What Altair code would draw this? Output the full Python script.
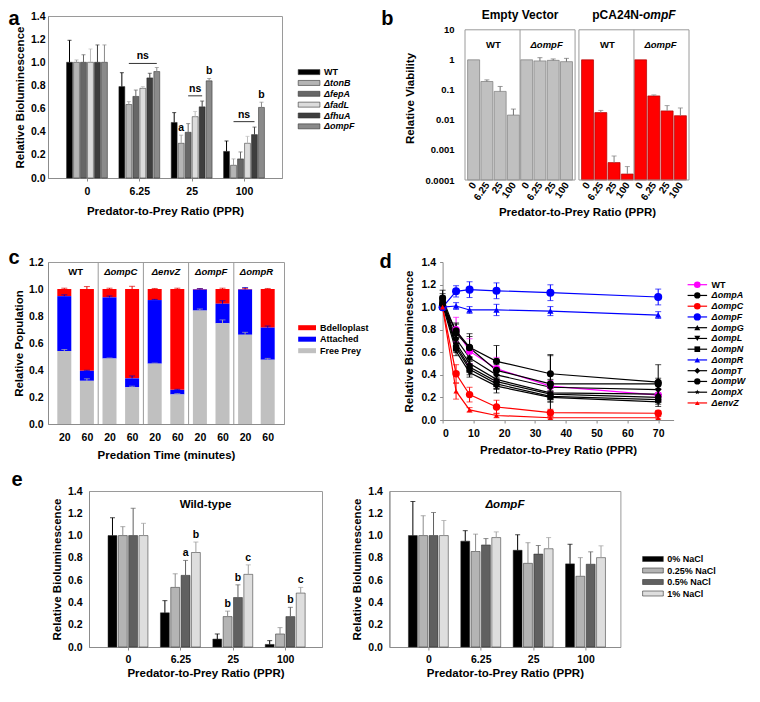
import math
import altair as alt
import pandas as pd

FONT = "Liberation Sans"
FRAME = "#9a9a9a"

# ---------------- shared ----------------
ppr_cats = ["0", "6.25", "25", "100"]
yticks_14 = [0.0, 0.2, 0.4, 0.6, 0.8, 1.0, 1.2, 1.4]
yticks_12 = [0.0, 0.2, 0.4, 0.6, 0.8, 1.0, 1.2]

# ---------------- panel a ----------------
a_strains = ["WT", "ΔtonB", "ΔfepA", "ΔfadL", "ΔfhuA", "ΔompF"]
a_wt = [1.00, 0.79, 0.48, 0.23]
a_tonb = [1.00, 0.635, 0.30, 0.11]
a_fepa = [1.00, 0.705, 0.395, 0.165]
a_fadl = [1.00, 0.775, 0.53, 0.30]
a_fhua = [1.00, 0.865, 0.615, 0.375]
a_ompf = [1.00, 0.92, 0.84, 0.61]
a_wt_err = [0.19, 0.12, 0.085, 0.09]
a_tonb_err = [0.02, 0.025, 0.07, 0.055]
a_fepa_err = [0.065, 0.055, 0.075, 0.06]
a_fadl_err = [0.115, 0.015, 0.045, 0.06]
a_fhua_err = [0.15, 0.04, 0.05, 0.065]
a_ompf_err = [0.15, 0.035, 0.02, 0.045]
a_colors = ["#000000", "#b5b5b5", "#676767", "#dcdcdc", "#3e3e3e", "#8a8a8a"]
a_err_colors = ["#000000", "#a0a0a0", "#676767", "#bdbdbd", "#3e3e3e", "#8a8a8a"]
a_sig_ppr = ["25", "25", "100"]
a_sig_strain = ["ΔtonB", "ΔompF", "ΔompF"]
a_sig_text = ["a", "b", "b"]
a_ns_ppr = ["6.25", "25", "100"]
a_ns_start = ["ΔtonB", "ΔfepA", "ΔtonB"]
a_ns_end = ["ΔompF", "ΔfhuA", "ΔfhuA"]
a_ns_level = [0.99, 0.71, 0.487]

# ---------------- panel b ----------------
b_vectors = ["Empty Vector", "pCA24N-ompF"]
b_strains = ["WT", "ΔompF"]
b_ev_wt = [1.0, 0.19, 0.089, 0.0145]
b_ev_wt_hi = [1.0, 0.215, 0.13, 0.023]
b_ev_ko = [1.0, 0.92, 0.96, 0.87]
b_ev_ko_hi = [1.0, 1.18, 1.07, 1.12]
b_pc_wt = [1.0, 0.0175, 0.00038, 0.000158]
b_pc_wt_hi = [1.0, 0.0207, 0.00063, 0.00028]
b_pc_ko = [1.0, 0.063, 0.020, 0.0138]
b_pc_ko_hi = [1.0, 0.068, 0.030, 0.025]
b_yticks = [0.0001, 0.001, 0.01, 0.1, 1, 10]
b_fills = ["#c0c0c0", "#ff0000"]
b_edges = ["#7a7a7a", "#b00000"]
b_errc = ["#707070", "#808080"]
b_ymin = 0.0001
b_frame_top = 10
b_ymax = 28.8          # headroom so the framed area starts below panel a's top
b_title_y = 31.6
b_frame_units = 8.3
b_gap_units = 0.29

# ---------------- panel c ----------------
c_groups = ["WT", "ΔompC", "ΔenvZ", "ΔompF", "ΔompR"]
c_times = ["20", "60"]
c_free = [0.540, 0.320, 0.485, 0.272, 0.447, 0.219, 0.840, 0.746, 0.661, 0.476]
c_attached_top = [0.947, 0.394, 0.938, 0.338, 0.918, 0.253, 0.996, 0.891, 0.996, 0.714]
c_total = [1.0, 1.0, 1.0, 1.0, 1.0, 1.0, 1.0, 1.0, 1.0, 1.0]
c_free_err = [0.012, 0.015, 0.004, 0.008, 0.004, 0.006, 0.012, 0.025, 0.018, 0.010]
c_att_err = [0.010, 0.004, 0.010, 0.018, 0.005, 0.004, 0.006, 0.022, 0.015, 0.012]
c_bd_err = [0.006, 0.018, 0.006, 0.020, 0.004, 0.006, 0.003, 0.006, 0.004, 0.004]
c_segments = ["Bdelloplast", "Attached", "Free Prey"]
c_colors = ["#ff0000", "#0000ff", "#c0c0c0"]
c_err_colors = ["#e00000", "#0000c8", "#a8a8a8"]

# ---------------- panel d ----------------
d_x = [0, 4.375, 8.75, 17.5, 35, 70]
d_series = ["WT", "ΔompA", "ΔompC", "ΔompF", "ΔompG", "ΔompL", "ΔompN",
            "ΔompR", "ΔompT", "ΔompW", "ΔompX", "ΔenvZ"]
d_colors = ["#ff00ff", "#000000", "#ff0000", "#0000ff", "#000000", "#000000",
            "#000000", "#0000ff", "#000000", "#000000", "#000000", "#ff0000"]
d_markers = ["circle", "circle", "circle", "circle", "triangle-up", "triangle-down",
             "square", "triangle-up", "diamond", "circle", "star", "triangle-up"]
d_marker_size = [55, 50, 55, 65, 45, 45, 40, 40, 45, 50, 35, 28]
d_wt = [1.00, 0.80, 0.61, 0.455, 0.30, 0.22]
d_ompa = [1.08, 0.77, 0.64, 0.44, 0.32, 0.32]
d_ompc = [1.00, 0.41, 0.225, 0.115, 0.065, 0.06]
d_ompf = [1.00, 1.14, 1.155, 1.145, 1.128, 1.09]
d_ompg = [1.07, 0.68, 0.50, 0.36, 0.24, 0.23]
d_ompl = [1.05, 0.66, 0.47, 0.34, 0.23, 0.20]
d_ompn = [1.04, 0.64, 0.45, 0.32, 0.21, 0.18]
d_ompr = [1.00, 1.01, 0.975, 0.975, 0.965, 0.93]
d_ompt = [1.06, 0.72, 0.55, 0.40, 0.29, 0.27]
d_ompw = [1.03, 0.79, 0.645, 0.52, 0.41, 0.335]
d_ompx = [1.02, 0.61, 0.42, 0.30, 0.20, 0.16]
d_envz = [1.00, 0.255, 0.09, 0.04, 0.02, 0.02]
d_wt_err = [0.02, 0.11, 0.11, 0.10, 0.05, 0.05]
d_ompa_err = [0.07, 0.09, 0.10, 0.10, 0.25, 0.05]
d_ompc_err = [0.02, 0.08, 0.065, 0.06, 0.03, 0.025]
d_ompf_err = [0.02, 0.05, 0.07, 0.07, 0.07, 0.07]
d_ompg_err = [0.05, 0.05, 0.06, 0.08, 0.06, 0.05]
d_ompl_err = [0.04, 0.05, 0.05, 0.06, 0.05, 0.04]
d_ompn_err = [0.04, 0.04, 0.05, 0.05, 0.05, 0.04]
d_ompr_err = [0.02, 0.03, 0.03, 0.05, 0.04, 0.03]
d_ompt_err = [0.04, 0.06, 0.08, 0.09, 0.07, 0.05]
d_ompw_err = [0.04, 0.06, 0.12, 0.14, 0.17, 0.155]
d_ompx_err = [0.03, 0.04, 0.04, 0.06, 0.04, 0.04]
d_envz_err = [0.02, 0.07, 0.02, 0.02, 0.01, 0.01]
d_xticks = [0, 10, 20, 30, 40, 50, 60, 70]

# ---------------- panel e ----------------
e_salts = ["0% NaCl", "0.25% NaCl", "0.5% NaCl", "1% NaCl"]
e_colors = ["#000000", "#b4b4b4", "#606060", "#dedede"]
e_err_colors = ["#000000", "#8c8c8c", "#606060", "#a0a0a0"]
e_wt_0 = [1.0, 0.307, 0.071, 0.023]
e_wt_025 = [1.0, 0.535, 0.273, 0.117]
e_wt_05 = [1.0, 0.643, 0.444, 0.273]
e_wt_1 = [1.0, 0.848, 0.652, 0.484]
e_wt_0_hi = [1.16, 0.416, 0.117, 0.057]
e_wt_025_hi = [1.08, 0.657, 0.322, 0.174]
e_wt_05_hi = [1.245, 0.777, 0.558, 0.356]
e_wt_1_hi = [1.11, 0.942, 0.737, 0.535]
e_ko_0 = [1.0, 0.95, 0.868, 0.746]
e_ko_025 = [1.0, 0.857, 0.751, 0.635]
e_ko_05 = [1.0, 0.916, 0.834, 0.743]
e_ko_1 = [1.0, 0.982, 0.882, 0.802]
e_ko_0_hi = [1.306, 1.044, 1.007, 0.922]
e_ko_025_hi = [1.178, 1.013, 0.936, 0.802]
e_ko_05_hi = [1.207, 0.973, 0.911, 0.854]
e_ko_1_hi = [1.135, 1.033, 0.982, 0.908]
e_sig_ppr = ["6.25", "6.25", "25", "25", "25", "100", "100"]
e_sig_salt = ["0.5% NaCl", "1% NaCl", "0.25% NaCl", "0.5% NaCl", "1% NaCl", "0.5% NaCl", "1% NaCl"]
e_sig_text = ["a", "b", "b", "b", "c", "b", "c"]
e_headers = ["Wild-type", "ΔompF"]


# ---------------- helpers ----------------
def letter_layer(t, px, py):
    return alt.Chart(pd.DataFrame({"t": [t]})).mark_text(
        align="left", baseline="alphabetic", fontSize=20, fontWeight="bold", font=FONT,
        color="#000000").encode(text="t:N", x=alt.value(px), y=alt.value(py))


def text_layers(df, xenc, yenc, size, **kw):
    out = []
    for ital in (False, True):
        sub = df[df["ital"] == ital]
        if len(sub) == 0:
            continue
        out.append(alt.Chart(sub).mark_text(
            font=FONT, fontWeight="bold", fontSize=size, color="#000000",
            fontStyle="italic" if ital else "normal", **kw).encode(x=xenc, y=yenc, text="label:N"))
    return out


def rect_legend(labels, fills, italics, x0, x1, y0, dy, h, stroke):
    df = pd.DataFrame({"label": labels, "fill": fills, "ital": italics,
                       "py": [y0 + i * dy for i in range(len(labels))]})
    df["pt"] = df["py"] - h / 2
    df["pb"] = df["py"] + h / 2
    mk = dict(strokeWidth=0.6, stroke=stroke) if stroke else dict(strokeWidth=0)
    layers = [alt.Chart(df).mark_rect(**mk).encode(
        x=alt.value(x0), x2=alt.value(x1), y=alt.Y("pt:Q", scale=None), y2="pb:Q",
        fill=alt.Fill("fill:N", scale=None))]
    layers += text_layers(df, alt.value(x1 + 4), alt.Y("py:Q", scale=None), 9,
                          align="left", baseline="middle")
    return layers


def grouped_panel(series, vals_list, tops_list, colors, ecolors, width, height,
                  unit_px, step_units, first_center_px, bar_px, cap, ypads, xpads,
                  legend_layers=(), sig=None, ns=None, header=None, letter=None):
    nser = len(series)
    c0 = (nser - 1) / 2
    dmin = c0 - first_center_px / unit_px
    dmax = dmin + width / unit_px
    centers = [c0 + g * step_units for g in range(len(ppr_cats))]
    label_expr = ("[" + ",".join("'" + p + "'" for p in ppr_cats) + "]"
                  + f"[round((datum.value - {c0}) / {step_units})]")
    rows = []
    for si, (s, col, ec, vals, tops) in enumerate(zip(series, colors, ecolors, vals_list, tops_list)):
        for g, (p, v, t) in enumerate(zip(ppr_cats, vals, tops)):
            rows.append({"pos": g * step_units + si, "ppr": p, "strain": s, "value": v,
                         "top": t, "ecol": ec, "fill": col})
    df = pd.DataFrame(rows)
    pos_of = {(r["ppr"], r["strain"]): r["pos"] for r in rows}
    top_of = {(r["ppr"], r["strain"]): r["top"] for r in rows}
    x = alt.X("pos:Q", scale=alt.Scale(domain=[dmin, dmax], nice=False, zero=False),
              axis=alt.Axis(values=centers, labelExpr=label_expr, tickSize=3,
                            labelPadding=xpads[0], labelOverlap=False,
                            title="Predator-to-Prey Ratio (PPR)", titlePadding=xpads[1]))

    def y(field):
        return alt.Y(field, type="quantitative", scale=alt.Scale(domain=[0, 1.4], nice=False),
                     axis=alt.Axis(values=yticks_14, format=".1f", ticks=False,
                                   labelPadding=ypads[0], title="Relative Bioluminescence",
                                   titlePadding=ypads[1]))

    layers = [
        alt.Chart(df).mark_bar(size=bar_px, stroke="#222222", strokeWidth=0.5).encode(
            x=x, y=y("value"), y2=alt.datum(0), fill=alt.Fill("fill:N", scale=None)),
        alt.Chart(df).mark_rule(strokeWidth=1).encode(
            x=x, y=y("value"), y2="top:Q", color=alt.Color("ecol:N", scale=None)),
        alt.Chart(df).mark_tick(thickness=1, size=cap, orient="horizontal").encode(
            x=x, y=y("top"), color=alt.Color("ecol:N", scale=None)),
    ]
    if sig is not None:
        sp, ss, st = sig
        sdf = pd.DataFrame({"pos": [pos_of[(p, s)] for p, s in zip(sp, ss)],
                            "top": [top_of[(p, s)] for p, s in zip(sp, ss)], "txt": st})
        layers.append(alt.Chart(sdf).mark_text(font=FONT, fontWeight="bold", fontSize=10.5,
                                               baseline="bottom", dy=-2, color="#000000").encode(
            x=x, y=y("top"), text="txt:N"))
    if ns is not None:
        npp, nst, nen, nlev = ns
        ndf = pd.DataFrame({"pos": [pos_of[(p, s)] for p, s in zip(npp, nst)],
                            "p1": [pos_of[(p, s)] for p, s in zip(npp, nen)],
                            "lev": nlev})
        layers.append(alt.Chart(ndf).mark_rule(color="#333333", strokeWidth=1).encode(
            x=x, x2="p1:Q", y=y("lev")))
        tdf = pd.DataFrame({"pos": (ndf["pos"] + ndf["p1"]) / 2, "lev": nlev,
                            "txt": ["ns"] * len(npp)})
        layers.append(alt.Chart(tdf).mark_text(font=FONT, fontWeight="bold", fontSize=10.5,
                                               baseline="bottom", dy=-2, color="#000000").encode(
            x=x, y=y("lev"), text="txt:N"))
    if header is not None:
        htxt, hy, hital = header
        hdf = pd.DataFrame({"label": [htxt], "hy": [hy], "ital": [hital], "pos": [(dmin + dmax) / 2]})
        layers += text_layers(hdf, x, y("hy"), 11.5)
    layers += list(legend_layers)
    if letter is not None:
        layers.append(letter_layer(*letter))
    return alt.layer(*layers).properties(width=width, height=height)


# ================= panel a =================
a_vals = [a_wt, a_tonb, a_fepa, a_fadl, a_fhua, a_ompf]
a_errs = [a_wt_err, a_tonb_err, a_fepa_err, a_fadl_err, a_fhua_err, a_ompf_err]
a_tops = [[round(v + e, 4) for v, e in zip(vs, es)] for vs, es in zip(a_vals, a_errs)]
chart_a = grouped_panel(
    a_strains, a_vals, a_tops, a_colors, a_err_colors, 234, 162,
    7.3, 7.49, 35.5, 5.9, 4, (3, 5), (5, 9),
    legend_layers=rect_legend(a_strains, a_colors, [s != "WT" for s in a_strains],
                              250.2, 271.9, 56.1, 10.85, 5, "#333333"),
    sig=(a_sig_ppr, a_sig_strain, a_sig_text),
    ns=(a_ns_ppr, a_ns_start, a_ns_end, a_ns_level),
    letter=("a", -39.4, 9))

# ================= panel b (two framed halves in one view) =================
b_nper = len(ppr_cats)
b_offsets = [k * (b_frame_units + b_gap_units) for k in range(len(b_vectors))]
b_rows = []
for k, (wt, wt_hi, ko, ko_hi) in enumerate([(b_ev_wt, b_ev_wt_hi, b_ev_ko, b_ev_ko_hi),
                                            (b_pc_wt, b_pc_wt_hi, b_pc_ko, b_pc_ko_hi)]):
    for si, (s, vals, his) in enumerate(zip(b_strains, [wt, ko], [wt_hi, ko_hi])):
        for pi, (p, v, h) in enumerate(zip(ppr_cats, vals, his)):
            b_rows.append({"pos": b_offsets[k] + si * b_nper + pi, "value": v, "hi": h,
                           "fill": b_fills[k], "edge": b_edges[k], "ecol": b_errc[k]})
df_b = pd.DataFrame(b_rows)
df_b_err = df_b[df_b["hi"] > df_b["value"]]
n_b = len(b_strains) * b_nper
b_xmin = -0.65
b_xmax = b_offsets[-1] + n_b - 1 + 0.65
b_lo = [off - 0.65 for off in b_offsets]
b_hi_edge = [off + n_b - 1 + 0.65 for off in b_offsets]
b_split = (b_offsets[1] + n_b - 1) / 2 + 0.2
b_label_expr = ("[" + ",".join("'" + p + "'" for p in ppr_cats) + "]"
                + f"[round(datum.value - (datum.value > {b_split:.3f} ? {b_offsets[1]:.3f} : 0)) % {b_nper}]")
b_x = alt.X("pos:Q", scale=alt.Scale(domain=[b_xmin, b_xmax], nice=False, zero=False),
            axis=alt.Axis(values=[r["pos"] for r in b_rows], labelExpr=b_label_expr, labelAngle=-55,
                          labelAlign="right", labelBaseline="middle", ticks=False, labelPadding=3,
                          labelOverlap=False, labelFontSize=10, domain=False,
                          title="Predator-to-Prey Ratio (PPR)", titlePadding=5))


def b_y(field):
    return alt.Y(field, type="quantitative",
                 scale=alt.Scale(type="log", domain=[b_ymin, b_ymax], nice=False),
                 axis=alt.Axis(values=b_yticks, format="~g", ticks=False, domain=False, labelPadding=6,
                               labelFontSize=9.5, title="Relative Viability", titlePadding=9))


fr = []
for lo, hi_e, off in zip(b_lo, b_hi_edge, b_offsets):
    fr += [(lo, lo, b_ymin, b_frame_top), (hi_e, hi_e, b_ymin, b_frame_top),
           (lo, hi_e, b_frame_top, b_frame_top), (lo, hi_e, b_ymin, b_ymin)]
    for i in range(len(b_strains) - 1):
        dv = off + b_nper * (i + 1) - 0.5
        fr.append((dv, dv, b_ymin, b_frame_top))
b_frame = pd.DataFrame(fr, columns=["pos", "fx2", "fy", "fy2"])
b_hdr = pd.DataFrame({"pos": [off + b_nper * i + (b_nper - 1) / 2 for off in b_offsets
                              for i in range(len(b_strains))],
                      "label": b_strains * len(b_offsets), "hy": [3.2] * (len(b_strains) * len(b_offsets)),
                      "ital": [s != "WT" for s in b_strains] * len(b_offsets)})
b_mid = [off + (n_b - 1) / 2 for off in b_offsets]
b_title_parts = b_vectors[1].split("-")
b_layers = [
    alt.Chart(df_b).mark_bar(size=12, strokeWidth=0.7).encode(
        x=b_x, y=b_y("value"), y2=alt.datum(b_ymin),
        fill=alt.Fill("fill:N", scale=None), stroke=alt.Stroke("edge:N", scale=None)),
    alt.Chart(df_b_err).mark_rule(strokeWidth=1).encode(
        x=b_x, y=b_y("value"), y2="hi:Q", color=alt.Color("ecol:N", scale=None)),
    alt.Chart(df_b_err).mark_tick(thickness=1, size=5, orient="horizontal").encode(
        x=b_x, y=b_y("hi"), color=alt.Color("ecol:N", scale=None)),
    alt.Chart(b_frame).mark_rule(color=FRAME, strokeWidth=1).encode(
        x=b_x, x2="fx2:Q", y=b_y("fy"), y2="fy2:Q"),
    alt.Chart(pd.DataFrame({"pos": [b_mid[0]], "ty": [b_title_y], "label": [b_vectors[0]]})).mark_text(
        font=FONT, fontWeight="bold", fontSize=12, color="#000000", baseline="middle").encode(
        x=b_x, y=b_y("ty"), text="label:N"),
    alt.Chart(pd.DataFrame({"pos": [b_mid[1]], "ty": [b_title_y], "label": [b_title_parts[0] + "-"]})).mark_text(
        font=FONT, fontWeight="bold", fontSize=12, color="#000000", baseline="middle",
        align="right", dx=9).encode(x=b_x, y=b_y("ty"), text="label:N"),
    alt.Chart(pd.DataFrame({"pos": [b_mid[1]], "ty": [b_title_y], "label": [b_title_parts[1]]})).mark_text(
        font=FONT, fontWeight="bold", fontStyle="italic", fontSize=12, color="#000000",
        baseline="middle", align="left", dx=9).encode(x=b_x, y=b_y("ty"), text="label:N"),
]
b_layers += text_layers(b_hdr, b_x, b_y("hy"), 9.5)
b_layers.append(letter_layer("b", -78.8, 9))
chart_b = alt.layer(*b_layers).properties(width=234, height=164,
                                          view=alt.ViewBackground(stroke="transparent"))

# ================= panel c =================
c_rows = []
c_err_rows = []
for i in range(len(c_free)):
    bottoms = [c_attached_top[i], c_free[i], 0.0]
    tops = [c_total[i], c_attached_top[i], c_free[i]]
    errs = [c_bd_err[i], c_att_err[i], c_free_err[i]]
    for seg, col, b0, t0, e0, ec in zip(c_segments, c_colors, bottoms, tops, errs, c_err_colors):
        c_rows.append({"pos": i, "seg": seg, "bottom": b0, "top": t0, "fill": col})
        c_err_rows.append({"pos": i, "top": t0, "hi": round(t0 + e0, 4), "ecol": ec})
df_c = pd.DataFrame(c_rows)
df_c_err = pd.DataFrame(c_err_rows)
n_c = len(c_free)
nt = len(c_times)
c_label_expr = "[" + ",".join("'" + t + "'" for t in c_times) + "][datum.value % " + str(nt) + "]"
c_x = alt.X("pos:Q", scale=alt.Scale(domain=[-0.5, n_c - 0.5], nice=False, zero=False),
            axis=alt.Axis(values=list(range(n_c)), labelExpr=c_label_expr, ticks=False,
                          labelPadding=8, labelOverlap=False,
                          title="Predation Time (minutes)", titlePadding=7))


def c_y(field):
    return alt.Y(field, type="quantitative", scale=alt.Scale(domain=[0, 1.2], nice=False),
                 axis=alt.Axis(values=yticks_12, format=".1f", ticks=False, labelPadding=5,
                               title="Relative Population", titlePadding=4))


c_div = pd.DataFrame({"pos": [nt * (i + 1) - 0.5 for i in range(len(c_groups) - 1)]})
c_hdr = pd.DataFrame({"pos": [nt * i + (nt - 1) / 2 for i in range(len(c_groups))],
                      "label": c_groups, "hy": [1.128] * len(c_groups),
                      "ital": [g != "WT" for g in c_groups]})
c_layers = [
    alt.Chart(df_c).mark_bar(size=14).encode(
        x=c_x, y=c_y("top"), y2="bottom:Q", fill=alt.Fill("fill:N", scale=None)),
    alt.Chart(df_c_err).mark_rule(strokeWidth=1).encode(
        x=c_x, y=c_y("top"), y2="hi:Q", color=alt.Color("ecol:N", scale=None)),
    alt.Chart(df_c_err).mark_tick(thickness=1, size=6, orient="horizontal").encode(
        x=c_x, y=c_y("hi"), color=alt.Color("ecol:N", scale=None)),
    alt.Chart(c_div).mark_rule(color=FRAME, strokeWidth=1).encode(x=c_x),
]
c_layers += text_layers(c_hdr, c_x, c_y("hy"), 9.5)
c_layers += rect_legend(c_segments, c_colors, [False] * 3, 250.2, 268, 65.7, 11.5, 5, None)
c_layers.append(letter_layer("c", -39.4, 2))
chart_c = alt.layer(*c_layers).properties(width=236, height=162)

# ================= panel d =================


def poly_path(pts):
    return "M" + "L".join(f"{px:.3f},{py:.3f}" for px, py in pts) + "Z"


def star_path(k):
    pts = []
    for j in range(10):
        ang = math.radians(-90 + 36 * j)
        rr = (1.0 if j % 2 == 0 else 0.42) * k
        pts.append((rr * math.cos(ang), rr * math.sin(ang)))
    return poly_path(pts)


d_point_shapes = [m if m != "star" else star_path(1.0) for m in d_markers]
d_vals = [d_wt, d_ompa, d_ompc, d_ompf, d_ompg, d_ompl, d_ompn, d_ompr, d_ompt, d_ompw, d_ompx, d_envz]
d_errs = [d_wt_err, d_ompa_err, d_ompc_err, d_ompf_err, d_ompg_err, d_ompl_err, d_ompn_err,
          d_ompr_err, d_ompt_err, d_ompw_err, d_ompx_err, d_envz_err]
d_rows = []
for s, col, shp, msz, vals, errs in zip(d_series, d_colors, d_point_shapes, d_marker_size, d_vals, d_errs):
    for xx, v, e in zip(d_x, vals, errs):
        d_rows.append({"series": s, "x": xx, "value": v, "lo": round(v - e, 4),
                       "hi": round(v + e, 4), "col": col, "shp": shp, "msz": msz})
df_d = pd.DataFrame(d_rows)
d_xe = alt.X("x:Q", scale=alt.Scale(domain=[0, 75], nice=False),
             axis=alt.Axis(values=d_xticks, format="d", tickSize=3, labelPadding=5,
                           title="Predator-to-Prey Ratio (PPR)", titlePadding=6))


def d_y(field):
    return alt.Y(field, type="quantitative", scale=alt.Scale(domain=[0, 1.4], nice=False),
                 axis=alt.Axis(values=yticks_14, format=".1f", tickSize=3, labelPadding=4,
                               title="Relative Bioluminescence", titlePadding=7))


ident_col = alt.Color("col:N", scale=None)
d_leg = pd.DataFrame({"label": d_series, "col": d_colors, "shp": d_point_shapes,
                      "msz": [s * 0.8 for s in d_marker_size],
                      "ital": [s != "WT" for s in d_series],
                      "py": [22.7 + i * 10.75 for i in range(len(d_series))]})
d_layers = [
    alt.Chart(df_d).mark_line(strokeWidth=1.2).encode(
        x=d_xe, y=d_y("value"), color=ident_col, detail="series:N"),
    alt.Chart(df_d).mark_rule(strokeWidth=1).encode(x=d_xe, y=d_y("lo"), y2="hi:Q", color=ident_col),
    alt.Chart(df_d).mark_tick(thickness=1, size=6, orient="horizontal").encode(
        x=d_xe, y=d_y("lo"), color=ident_col),
    alt.Chart(df_d).mark_tick(thickness=1, size=6, orient="horizontal").encode(
        x=d_xe, y=d_y("hi"), color=ident_col),
    alt.Chart(df_d).mark_point(filled=True, opacity=1).encode(
        x=d_xe, y=d_y("value"), color=ident_col,
        shape=alt.Shape("shp:N", scale=None), size=alt.Size("msz:Q", scale=None)),
    alt.Chart(d_leg).mark_rule(strokeWidth=1.2).encode(
        x=alt.value(245), x2=alt.value(264.5), y=alt.Y("py:Q", scale=None), color=ident_col),
    alt.Chart(d_leg).mark_point(filled=True, opacity=1).encode(
        x=alt.value(254.7), y=alt.Y("py:Q", scale=None), color=ident_col,
        shape=alt.Shape("shp:N", scale=None), size=alt.Size("msz:Q", scale=None)),
]
d_layers += text_layers(d_leg, alt.value(269), alt.Y("py:Q", scale=None), 9,
                        align="left", baseline="middle")
d_layers.append(letter_layer("d", -63, 6))
chart_d = alt.layer(*d_layers).properties(width=231, height=158,
                                          view=alt.ViewBackground(stroke="transparent"))

# ================= panel e =================
chart_e1 = grouped_panel(
    e_salts, [e_wt_0, e_wt_025, e_wt_05, e_wt_1], [e_wt_0_hi, e_wt_025_hi, e_wt_05_hi, e_wt_1_hi],
    e_colors, e_err_colors, 233, 156, 10.8, 5.07, 35.5, 8.9, 5, (7, 5), (4, 3),
    sig=(e_sig_ppr, e_sig_salt, e_sig_text),
    header=(e_headers[0], 1.27, False))
chart_e2 = grouped_panel(
    e_salts, [e_ko_0, e_ko_025, e_ko_05, e_ko_1], [e_ko_0_hi, e_ko_025_hi, e_ko_05_hi, e_ko_1_hi],
    e_colors, e_err_colors, 231, 156, 10.8, 5.07, 35.5, 8.9, 5, (7, 5), (4, 3),
    legend_layers=rect_legend(e_salts, e_colors, [False] * 4, 253.2, 273.9, 68, 11.5, 5, "#333333"),
    header=(e_headers[1], 1.27, True))
spacer_e = alt.Chart(pd.DataFrame({"t": ["e"]})).mark_text(
    align="left", baseline="alphabetic", fontSize=20, fontWeight="bold", font=FONT,
    color="#000000").encode(text="t:N", x=alt.value(-36.4), y=alt.value(-4.9)).properties(
    width=1, height=1, view=alt.ViewBackground(stroke="transparent"))

RES = dict(x="independent", y="independent", color="independent", shape="independent")
row1 = alt.concat(chart_a, chart_b, columns=2, spacing=25, align="none").resolve_scale(**RES)
row2 = alt.concat(chart_c, chart_d, columns=2, spacing=8.6, align="none").resolve_scale(**RES)
e_pair = alt.concat(chart_e1, chart_e2, columns=2, spacing=27.4, align="none").resolve_scale(**RES)
row3 = alt.concat(spacer_e, e_pair, columns=2, spacing=0, align="none").resolve_scale(**RES)
lower = alt.concat(row2, row3, columns=1, spacing=7, align="none").resolve_scale(**RES)

chart = (
    alt.concat(row1, lower, columns=1, spacing=28, align="none")
    .resolve_scale(**RES)
    .properties(padding=0)
    .configure(font=FONT)
    .configure_axis(labelFont=FONT, titleFont=FONT, labelFontSize=10.5, titleFontSize=11.5,
                    labelFontWeight="bold", titleFontWeight="bold", labelColor="#000000",
                    titleColor="#000000", domainColor="#8c8c8c", tickColor="#8c8c8c", grid=False)
    .configure_view(stroke=FRAME, strokeWidth=1)
    .configure_title(font=FONT, color="#000000")
)
chart.save("out.html", embed_options={"renderer": "svg", "actions": False})
